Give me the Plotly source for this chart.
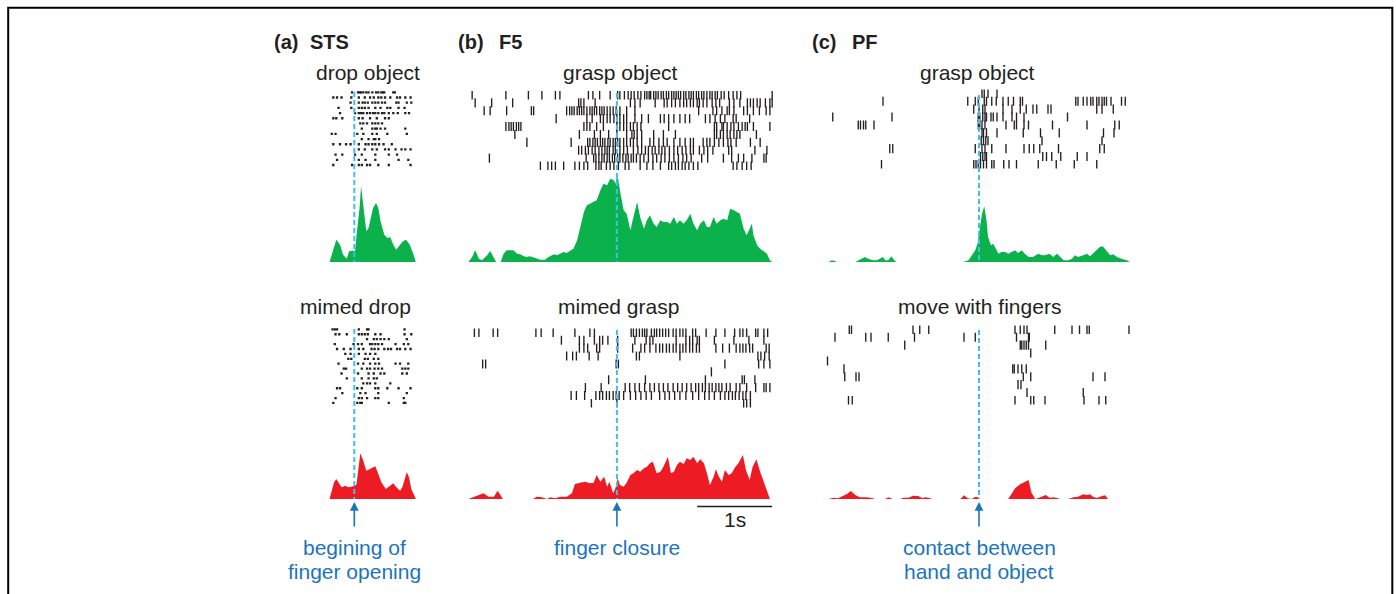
import plotly.graph_objects as go

W, H = 1396, 594

# ---------------- DATA (spike times in s, relative to the behavioural event) ----------------
# (a) STS - drop object : raster trials
sts_drop_trials = [
    [-0.03, 0.05, 0.07, 0.09, 0.12, 0.16, 0.19, 0.24, 0.29, 0.32, 0.36, 0.38, 0.40, 0.52, 0.54],
    [-0.28, -0.23, -0.17, -0.04, 0.06, 0.14, 0.21, 0.26, 0.32, 0.36, 0.41, 0.48, 0.57, 0.61, 0.68, 0.75],
    [-0.05, 0.06, 0.11, 0.14, 0.18, 0.24, 0.28, 0.32, 0.37, 0.41, 0.56, 0.59, 0.70, 0.76],
    [-0.21, -0.04, 0.06, 0.10, 0.14, 0.19, 0.28, 0.35, 0.44, 0.48, 0.59, 0.67],
    [-0.19, 0.01, 0.06, 0.09, 0.12, 0.17, 0.21, 0.25, 0.28, 0.32, 0.37, 0.40, 0.46, 0.52, 0.58, 0.68, 0.73],
    [-0.28, -0.24, -0.16, 0.06, 0.11, 0.21, 0.30, 0.41, 0.46],
    [0.08, 0.12, 0.17, 0.24, 0.28, 0.32, 0.37],
    [0.10, 0.24, 0.28, 0.30, 0.35, 0.41, 0.68],
    [-0.30, -0.25, 0.04, 0.12, 0.24, 0.30, 0.44, 0.70],
    [0.10, 0.19, 0.26, 0.28, 0.33],
    [-0.28, -0.19, -0.11, -0.05, 0.06, 0.15, 0.19, 0.24, 0.28, 0.33, 0.39, 0.50],
    [0.06, 0.14, 0.24, 0.30, 0.41, 0.46, 0.55, 0.63, 0.68, 0.75],
    [-0.25, -0.16, 0.01, 0.10, 0.28, 0.46, 0.57],
    [-0.23, 0.06, 0.15, 0.28, 0.59, 0.72],
    [-0.28, -0.03, 0.06, 0.10, 0.17, 0.21, 0.32, 0.46, 0.75],
]
sts_drop_t = [-0.33, -0.29, -0.24, -0.19, -0.15, -0.10, -0.07, -0.02, 0.01, 0.03, 0.07, 0.09, 0.12, 0.16,
              0.19, 0.22, 0.25, 0.29, 0.32, 0.35, 0.40, 0.44, 0.48, 0.52, 0.56, 0.61, 0.65, 0.69, 0.74,
              0.79, 0.82]
sts_drop_rate = [0, 10.7, 22.3, 17.3, 7.3, 3.3, 10.7, 11.3, 10.7, 27.3, 54, 75.7, 54, 30.7, 34, 44, 54,
                 59, 54, 40.7, 27.3, 24, 24.7, 17.3, 12.3, 17.3, 20.7, 22.3, 17.3, 7.3, 0]

# (a) STS - mimed drop
sts_mimed_trials = [
    [-0.29, -0.26, -0.23, 0.06, 0.17, 0.19, 0.67],
    [-0.25, -0.20, -0.10, 0.06, 0.10, 0.14, 0.18, 0.28, 0.35, 0.67, 0.76],
    [0.17, 0.26, 0.30, 0.35, 0.40, 0.46, 0.70],
    [-0.26, -0.01, 0.05, 0.10, 0.21, 0.24, 0.28, 0.32, 0.37, 0.55, 0.66, 0.72],
    [-0.23, -0.14, -0.05, 0.06, 0.12, 0.23, 0.27, 0.32, 0.40, 0.45, 0.49, 0.57, 0.61, 0.68, 0.75],
    [-0.12, -0.05, 0.06, 0.15, 0.21, 0.28],
    [-0.08, -0.04, 0.14, 0.18, 0.26, 0.32],
    [-0.21, 0.05, 0.12, 0.21, 0.28, 0.33, 0.55, 0.61, 0.72],
    [-0.14, -0.11, 0.10, 0.17, 0.21, 0.27, 0.32, 0.37, 0.64, 0.68, 0.72],
    [-0.17, 0.05, 0.19, 0.26, 0.35, 0.40, 0.64, 0.70],
    [-0.10, 0.10, 0.19, 0.26, 0.30],
    [0.12, 0.17, 0.21, 0.28, 0.48],
    [-0.23, -0.19, 0.04, 0.10, 0.28, 0.32, 0.44, 0.59, 0.75],
    [-0.16, 0.08, 0.15, 0.32, 0.70],
    [-0.25, 0.06, 0.10, 0.17, 0.28, 0.32, 0.66],
    [-0.28, 0.04, 0.08, 0.10, 0.46, 0.66, 0.68],
]
sts_mimed_t = [-0.33, -0.30, -0.27, -0.24, -0.21, -0.17, -0.12, -0.08, -0.04, 0.01, 0.03, 0.05, 0.08, 0.12,
               0.16, 0.21, 0.28, 0.32, 0.36, 0.42, 0.48, 0.52, 0.56, 0.61, 0.64, 0.68, 0.70, 0.73, 0.76,
               0.81, 0.82]
sts_mimed_rate = [0, 8.3, 16.7, 20, 16.7, 11.7, 13.3, 11.7, 12.3, 13.3, 15, 28.3, 45.7, 38.3, 28.3, 30,
                  32.7, 25, 16.7, 10, 13.3, 15.7, 11.7, 8.3, 11.7, 21.7, 26.7, 21.7, 10, 1.7, 0]

# (b) F5 - grasp object
f5_grasp_trials = [
    [-1.93, -1.48, -1.18, -1.00, -0.82, -0.76, -0.38, -0.32, -0.23, -0.09, 0.01, 0.04, 0.10, 0.15, 0.19,
     0.23, 0.28, 0.32, 0.37, 0.40, 0.43, 0.45, 0.49, 0.52, 0.55, 0.59, 0.62, 0.66, 0.69, 0.73, 0.76, 0.79,
     0.82, 0.85, 0.89, 0.92, 0.96, 0.99, 1.02, 1.06, 1.09, 1.13, 1.16, 1.20, 1.24, 1.27, 1.31, 1.34, 1.39,
     1.43, 1.49, 1.55, 1.60, 1.65, 2.07],
    [-1.89, -1.67, -1.39, -0.51, -0.48, -0.44, -0.29, 0.18, 0.24, 0.31, 0.51, 0.63, 0.67, 0.73, 0.78, 0.84,
     0.89, 0.93, 0.98, 1.02, 1.07, 1.10, 1.15, 1.20, 1.27, 1.32, 1.37, 1.50, 1.56, 1.64, 1.74, 1.78, 1.82,
     1.87, 1.91, 1.98, 2.04, 2.07],
    [-1.77, -1.69, -1.47, -1.14, -1.11, -0.67, -0.63, -0.60, -0.57, -0.53, -0.50, -0.47, -0.44, -0.40,
     -0.36, -0.33, -0.30, -0.27, -0.23, -0.20, -0.17, -0.13, -0.09, -0.05, -0.01, 0.04, 0.13, 0.24, 1.09,
     1.28, 1.33, 1.40, 1.47, 1.50, 1.56, 1.69, 1.74, 1.82, 1.90, 1.99, 2.04],
    [-0.81, -0.40, -0.33, -0.22, -0.18, -0.13, -0.09, -0.04, 0.00, 0.04, 0.09, 0.13, 0.24, 0.33, 0.42,
     0.58, 0.63, 0.69, 0.76, 0.84, 0.91, 0.97, 1.18, 1.24, 1.31, 1.38, 1.44, 1.55, 1.59, 1.77],
    [-1.48, -1.44, -1.41, -1.38, -1.34, -1.31, -1.28, -0.44, -0.40, -0.36, -0.27, -0.18, 0.00, 0.04, 0.09,
     0.13, 0.18, 0.22, 0.27, 0.32, 0.69, 1.30, 1.33, 1.40, 1.42, 1.47, 1.52, 1.56, 1.62, 1.67, 1.71, 1.74,
     1.82, 2.04],
    [-1.36, -0.50, -0.30, -0.22, -0.11, 0.00, 0.13, 0.20, 0.23, 0.27, 0.33, 0.49, 0.62, 0.78, 1.30, 1.33,
     1.38, 1.42, 1.47, 1.51, 1.56, 1.60, 1.64, 1.86],
    [-1.20, -0.61, -0.39, -0.36, -0.32, -0.29, -0.26, -0.22, -0.19, -0.16, -0.12, -0.09, -0.05, -0.02,
     0.01, 0.04, 0.09, 0.13, 0.18, 0.22, 0.27, 0.33, 0.44, 0.49, 0.56, 0.62, 0.67, 0.76, 0.84, 0.91, 0.98,
     1.02, 1.15, 1.20, 1.24, 1.30, 1.36, 1.42, 1.48, 1.52, 1.59, 1.78, 1.91],
    [-0.51, -0.47, -0.42, -0.38, -0.33, -0.29, -0.24, -0.20, -0.16, -0.13, -0.10, -0.05, -0.02, 0.04,
     0.09, 0.14, 0.22, 0.28, 0.33, 0.38, 0.42, 0.47, 0.51, 0.56, 0.60, 0.64, 0.70, 0.76, 0.81, 0.87, 0.92,
     0.98, 1.02, 1.10, 1.16, 1.21, 1.28, 1.49, 1.53, 1.84, 2.00],
    [-1.70, -0.41, -0.31, -0.28, -0.24, -0.20, -0.17, -0.13, -0.10, -0.06, -0.03, 0.01, 0.04, 0.08, 0.12,
     0.15, 0.19, 0.22, 0.26, 0.31, 0.36, 0.42, 0.48, 0.53, 0.59, 0.64, 0.70, 0.76, 0.82, 0.88, 0.93, 0.99,
     1.13, 1.21, 1.42, 1.53, 1.62, 1.69, 1.80, 1.96, 1.99],
    [-1.02, -0.92, -0.87, -0.82, -0.71, -0.56, -0.50, -0.44, -0.39, -0.28, -0.24, -0.21, -0.14, -0.09,
     -0.04, 0.02, 0.11, 0.16, 0.31, 0.40, 0.48, 0.58, 0.69, 0.73, 0.78, 0.82, 0.87, 0.91, 0.96, 1.02, 1.08,
     1.55, 1.60, 1.67, 1.73, 1.79],
]
f5_grasp_t = [-1.98, -1.93, -1.89, -1.84, -1.80, -1.73, -1.69, -1.64, -1.61, -1.55, -1.51, -1.47, -1.42,
              -1.38, -1.33, -1.29, -1.24, -1.20, -1.16, -1.11, -1.07, -1.02, -0.96, -0.91, -0.84, -0.80,
              -0.76, -0.71, -0.67, -0.62, -0.58, -0.53, -0.49, -0.44, -0.40, -0.36, -0.31, -0.27, -0.22,
              -0.18, -0.13, -0.09, -0.04, -0.02, 0.00, 0.02, 0.04, 0.09, 0.13, 0.18, 0.22, 0.27, 0.31,
              0.36, 0.40, 0.44, 0.49, 0.53, 0.58, 0.62, 0.67, 0.71, 0.76, 0.80, 0.84, 0.89, 0.93, 0.98,
              1.02, 1.07, 1.11, 1.16, 1.20, 1.24, 1.29, 1.33, 1.38, 1.42, 1.47, 1.51, 1.56, 1.60, 1.64,
              1.69, 1.73, 1.78, 1.80, 1.82, 1.87, 1.91, 1.96, 2.00, 2.04, 2.07]
f5_grasp_rate = [0, 5, 11.7, 3.3, 1.7, 6.7, 11, 5, 0, 0, 8.3, 11.7, 11.7, 11.7, 8.3, 7.7, 5.7, 5, 5.7,
                 4.3, 3.3, 2.3, 2.3, 5, 7.7, 6.7, 8.3, 10, 9, 11, 13.3, 21.7, 35, 50, 56.7, 58.3, 60,
                 61.7, 71.7, 78.3, 76.7, 83.3, 81.7, 78.3, 85, 81.7, 71.7, 51.7, 48.3, 31.7, 45, 60, 45,
                 33.3, 41.7, 46.7, 38.3, 35, 41.7, 40, 40, 38.3, 45, 38.3, 41.7, 38.3, 41.7, 48.3, 38.3,
                 31.7, 38.3, 41.7, 35, 35, 45, 38.3, 41.7, 43.3, 41.7, 53.3, 51.7, 50, 48.3, 33.3, 26.7,
                 35, 38.3, 26.7, 16.7, 13.3, 10, 8.3, 1.7, 0]

# (b) F5 - mimed grasp
f5_mimed_trials = [
    [-1.90, -1.84, -1.65, -1.59, -1.08, -1.01, -0.85, -0.56, -0.36, -0.30, 0.19, 0.22, 0.26, 0.30, 0.34,
     0.37, 0.40, 0.46, 0.50, 0.53, 0.57, 0.61, 0.65, 0.69, 0.75, 0.79, 0.84, 0.88, 0.92, 1.01, 1.05, 1.19,
     1.32, 1.44, 1.57, 1.64, 1.68, 1.73, 1.85, 1.88, 1.96, 2.01],
    [-0.74, -0.50, -0.44, -0.30, -0.23, -0.19, -0.12, 0.01, 0.24, 0.39, 0.44, 0.48, 0.79, 0.92, 0.97,
     1.01, 1.07, 1.10, 1.30, 1.56, 1.76, 1.96],
    [-0.50, -0.44, -0.39, -0.27, -0.23, 0.01, 0.21, 0.32, 0.37, 0.44, 0.52, 0.57, 0.61, 0.66, 0.70, 0.75,
     0.79, 0.84, 0.88, 0.92, 0.97, 1.01, 1.06, 1.10, 1.32, 1.41, 1.50, 1.59, 1.64, 1.68, 1.72, 1.77, 1.81,
     1.99, 2.03],
    [-0.67, -0.59, -0.54, -0.37, -0.25, 0.26, 0.30, 0.84, 1.88, 1.92, 1.97, 2.03],
    [-1.79, -1.75, -0.01, 0.02, 1.44, 1.89, 1.96, 2.04],
    [1.26],
    [-0.11, 0.38, 1.18, 1.67, 1.70, 1.84],
    [-0.42, -0.21, 0.11, 0.17, 0.24, 0.30, 0.37, 0.44, 0.50, 0.56, 0.62, 0.68, 0.75, 0.81, 0.87, 0.93,
     0.99, 1.05, 1.09, 1.14, 1.18, 1.23, 1.27, 1.32, 1.36, 1.40, 1.46, 1.51, 1.59, 1.64, 1.73, 1.85, 1.96,
     1.99, 2.04],
    [-0.61, -0.54, -0.43, -0.28, -0.23, -0.19, -0.14, -0.10, -0.05, -0.01, 0.03, 0.09, 0.18, 0.25, 0.32,
     0.39, 0.46, 0.57, 0.64, 0.70, 0.77, 0.84, 0.92, 1.01, 1.09, 1.17, 1.23, 1.30, 1.38, 1.44, 1.49, 1.54,
     1.58, 1.63, 1.68, 1.72, 1.78],
    [-0.34, 0.00, 1.69, 1.73, 1.78],
]
f5_mimed_t = [-1.98, -1.89, -1.78, -1.71, -1.64, -1.59, -1.53, -1.52, -1.12, -1.07, -1.00, -0.93, -0.89,
              -0.82, -0.76, -0.67, -0.60, -0.56, -0.49, -0.42, -0.36, -0.31, -0.27, -0.22, -0.17, -0.13,
              -0.10, -0.05, -0.02, 0.01, 0.04, 0.09, 0.13, 0.18, 0.22, 0.27, 0.31, 0.36, 0.40, 0.44, 0.48,
              0.53, 0.58, 0.62, 0.68, 0.72, 0.76, 0.80, 0.84, 0.89, 0.93, 0.98, 1.02, 1.07, 1.11, 1.16,
              1.20, 1.24, 1.29, 1.32, 1.36, 1.40, 1.44, 1.49, 1.53, 1.58, 1.62, 1.68, 1.72, 1.77, 1.81,
              1.86, 1.91, 1.98, 2.04]
f5_mimed_rate = [0, 2.3, 5.7, 2.3, 2.3, 8.3, 0.7, 0, 0, 2.3, 1.7, 0, 1.7, 0.7, 2.3, 2.3, 5.7, 15, 16.3,
                 17.3, 15.7, 16.3, 24, 17.3, 22.3, 12.3, 17.3, 5.7, 10.7, 20.7, 14, 12.3, 16.3, 24, 25.7,
                 29, 27.3, 30.7, 32.3, 35.7, 37.3, 25.7, 27.3, 32.3, 42.3, 25.7, 27.3, 34, 37.3, 35, 40.7,
                 39, 42.3, 35.7, 39.7, 35.7, 25.7, 14, 22.3, 29.7, 22.3, 17.3, 29, 24, 25.7, 32.3, 35.7,
                 44, 29, 19, 32.3, 39.7, 27.3, 12.3, 0]

# (c) PF - grasp object
pf_grasp_trials = [
    [0.04, 0.07, 0.12, 0.24],
    [-1.28, -0.15, -0.05, -0.01, 0.07, 0.10, 0.17, 0.23, 0.32, 0.39, 0.46, 0.55, 0.58, 1.29, 1.32, 1.39,
     1.44, 1.49, 1.52, 1.57, 1.60, 1.64, 1.67, 1.70, 1.76, 1.90, 1.95],
    [-0.07, 0.00, 0.05, 0.08, 0.32, 0.44, 0.55, 0.63, 0.72, 0.77, 0.92, 0.96, 1.57, 1.64, 1.79],
    [-1.95, -1.16, -0.01, 0.01, 0.05, 0.08, 0.10, 0.16, 0.19, 0.24, 0.32, 0.44, 0.50, 0.60, 1.18],
    [-1.61, -1.58, -1.54, -1.51, -1.40, -0.01, 0.01, 0.04, 0.08, 0.36, 0.47, 0.50, 0.60, 0.66, 0.98,
     1.44, 1.81, 1.87],
    [0.04, 0.06, 0.10, 0.24, 0.59, 0.82, 1.07, 1.66, 1.80],
    [0.03, 0.06, 0.09, 0.12, 0.84, 1.64],
    [-1.19, -1.15, -0.05, 0.04, 0.08, 0.17, 0.36, 0.60, 0.67, 0.73, 0.81, 1.06, 1.61, 1.67],
    [0.02, 0.05, 0.08, 0.10, 0.85, 0.90, 0.97, 1.09, 1.31, 1.44],
    [-1.30, -0.07, -0.04, -0.01, 0.02, 0.06, 0.10, 0.17, 0.20, 0.33, 0.40, 0.50, 0.79, 1.03, 1.27, 1.57],
]
pf_grasp_t = [-2.01, -1.96, -1.92, -1.90, -1.65, -1.61, -1.56, -1.52, -1.48, -1.41, -1.36, -1.32, -1.28,
              -1.25, -1.21, -1.17, -1.13, -1.10, -0.21, -0.14, -0.10, -0.05, -0.02, 0.00, 0.04, 0.07,
              0.10, 0.12, 0.16, 0.19, 0.23, 0.26, 0.30, 0.35, 0.39, 0.44, 0.48, 0.52, 0.57, 0.61, 0.66,
              0.72, 0.79, 0.84, 0.88, 0.94, 0.99, 1.04, 1.09, 1.13, 1.19, 1.24, 1.28, 1.32, 1.39, 1.44,
              1.48, 1.52, 1.57, 1.61, 1.65, 1.69, 1.75, 1.79, 1.84, 1.90, 1.97, 2.01]
pf_grasp_rate = [0, 1.7, 1, 0, 0, 1.7, 4, 5, 3.3, 1.7, 1.7, 3.3, 5, 1.7, 1.7, 5.7, 1.7, 0, 0, 1.7, 6.7,
                 11.7, 18.3, 30, 48.3, 55.7, 41.7, 25, 16.7, 18.3, 11.7, 8.3, 10, 10, 8.3, 10, 11.7, 9,
                 11.7, 8.3, 5, 5, 8.3, 6.7, 6.7, 8.3, 5, 8.3, 5, 1.7, 1.7, 3.3, 6.7, 5, 6.7, 8.3, 5.7,
                 8.3, 11.7, 15, 15.7, 11.7, 6.7, 7.7, 5, 3.3, 1.7, 0]

# (c) PF - move with fingers
pf_move_trials = [
    [-1.73, -1.70, -0.88, -0.79, -0.67, 0.48, 0.55, 0.60, 0.64, 1.01, 1.24, 1.34, 1.44, 1.47, 2.00],
    [-1.92, -1.51, -1.44, -1.21, -0.86, -0.20, -0.05, 0.50, 0.66, 0.67],
    [-0.99, 0.55, 0.57, 0.60, 0.63, 0.66, 0.89],
    [0.69],
    [-2.02],
    [-1.80, 0.45, 0.47, 0.52, 0.57, 0.63],
    [-1.79, -1.64, -1.60, 0.59, 0.69, 1.52, 1.68],
    [0.52, 0.56],
    [0.64, 1.39],
    [-1.74, -1.69, 0.48, 0.69, 0.73, 0.88, 1.40, 1.60, 1.69],
]
pf_move_t = [-2.01, -1.94, -1.88, -1.83, -1.76, -1.71, -1.65, -1.59, -1.50, -1.41, -1.39, -1.25, -1.21,
             -1.15, -1.05, -1.01, -0.94, -0.88, -0.81, -0.76, -0.71, -0.66, -0.62, -0.25, -0.20, -0.15,
             -0.10, -0.05, -0.01, 0.01, 0.39, 0.44, 0.48, 0.55, 0.60, 0.66, 0.70, 0.75, 0.79, 0.84, 0.89,
             0.94, 0.99, 1.04, 1.08, 1.19, 1.26, 1.32, 1.39, 1.44, 1.48, 1.52, 1.57, 1.64, 1.68, 1.72]
pf_move_rate = [0, 1.3, 0.7, 2.3, 5, 8, 4, 1.7, 1.7, 0.7, 0, 0, 1.7, 0, 0, 1.3, 1.3, 3.3, 3, 1, 1.7, 1,
                0, 0, 3.7, 0.7, 0, 2, 1.7, 0, 0, 5.7, 10.7, 14.7, 16.3, 19, 6.3, 0, 1, 2.3, 4, 1.3, 1.7,
                1, 0, 0, 1.7, 2.3, 4.7, 4, 4.7, 2.3, 1, 3, 3.7, 0]

# Text
area_labels = [("(a)", "STS"), ("(b)", "F5"), ("(c)", "PF")]
top_titles = ["drop object", "grasp object", "grasp object"]
bottom_titles = ["mimed drop", "mimed grasp", "move with fingers"]
event_labels = [["begining of", "finger opening"], ["finger closure"], ["contact between", "hand and object"]]
scale_bar_s = [1.07, 2.07]
scale_label = "1s"

# ---------------- STYLE / LAYOUT ----------------
GREEN = "#0BB14B"
RED = "#ED1C24"
DASH = "#3DBFEF"
BLUE = "#1B75BC"
INK = "#231F20"
FONT = "Liberation Sans, Arial, sans-serif"


def fx(px):
    return px / W


def fy(py):
    return 1 - py / H


fig = go.Figure()

# column x-axes (same time scale: 75 px per second)
cols = [
    dict(px=(320, 430), zero=354.3),
    dict(px=(460, 780), zero=616.9),
    dict(px=(820, 1140), zero=979.0),
]
xnames = ["x", "x2", "x3"]
layout_axes = {}
for i, c in enumerate(cols):
    key = "xaxis" if i == 0 else f"xaxis{i+1}"
    layout_axes[key] = dict(
        domain=[fx(c["px"][0]), fx(c["px"][1])],
        range=[(c["px"][0] - c["zero"]) / 75.0, (c["px"][1] - c["zero"]) / 75.0],
        visible=False, showgrid=False, zeroline=False, fixedrange=True, anchor="y",
    )

# y : top histograms, y2 : bottom histograms (value range 0..100 over 100 px)
layout_axes["yaxis"] = dict(domain=[fy(262), fy(162)], range=[0, 100], visible=False, anchor="x")
layout_axes["yaxis2"] = dict(domain=[fy(499), fy(399)], range=[0, 100], visible=False, anchor="x")
raster_specs = [
    ("yaxis3", 89.7, 167.6, len(sts_drop_trials)),
    ("yaxis4", 326.9, 405.4, len(sts_mimed_trials)),
    ("yaxis5", 91.0, 170.0, len(f5_grasp_trials)),
    ("yaxis6", 328.4, 407.4, len(f5_mimed_trials)),
    ("yaxis7", 89.4, 168.4, len(pf_grasp_trials)),
    ("yaxis8", 325.4, 404.4, len(pf_move_trials)),
]
for name, top, bot, n in raster_specs:
    layout_axes[name] = dict(domain=[fy(bot), fy(top)], range=[n - 0.5, -0.5],
                             visible=False, anchor="x")

panels = [
    ("x", "y3", sts_drop_trials, "y", sts_drop_t, sts_drop_rate, GREEN, True),
    ("x", "y4", sts_mimed_trials, "y2", sts_mimed_t, sts_mimed_rate, RED, True),
    ("x2", "y5", f5_grasp_trials, "y", f5_grasp_t, f5_grasp_rate, GREEN, False),
    ("x2", "y6", f5_mimed_trials, "y2", f5_mimed_t, f5_mimed_rate, RED, False),
    ("x3", "y7", pf_grasp_trials, "y", pf_grasp_t, pf_grasp_rate, GREEN, False),
    ("x3", "y8", pf_move_trials, "y2", pf_move_t, pf_move_rate, RED, False),
]

for xa, ya, trials, yh, tt, rate, colr, dots in panels:
    xs, ys = [], []
    for k, tr in enumerate(trials):
        for s in tr:
            xs.append(s)
            ys.append(k)
    if dots:
        marker = dict(symbol="square", size=2.3, color=INK, line=dict(width=0))
    else:
        marker = dict(symbol="line-ns", size=6.5, color=INK, line=dict(width=1.35, color=INK))
    fig.add_trace(go.Scatter(x=xs, y=ys, xaxis=xa, yaxis=ya, mode="markers", marker=marker,
                             hoverinfo="skip", showlegend=False))
    fig.add_trace(go.Scatter(x=tt, y=rate, xaxis=xa, yaxis=yh, mode="lines",
                             line=dict(width=0, color=colr), fill="tozeroy", fillcolor=colr,
                             hoverinfo="skip", showlegend=False))

shapes = []
annotations = []

# frame (open at the bottom)
shapes.append(dict(type="path", xref="paper", yref="paper",
                   path=f"M {fx(8.2)} -0.05 L {fx(8.2)} {fy(7.7)} L {fx(1392.3)} {fy(7.7)} L {fx(1392.3)} -0.05",
                   line=dict(color="black", width=2)))

# event dashed lines, arrows, labels
dash_ranges = [((92, 262), (329, 499)), ((93, 262), (330, 499)), ((95, 262), (330, 499))]
for i, xa in enumerate(xnames):
    for (y0, y1) in dash_ranges[i]:
        shapes.append(dict(type="line", xref=xa, yref="paper", x0=0, x1=0, y0=fy(y0), y1=fy(y1),
                           line=dict(color=DASH, width=2, dash="5px,3px")))
    annotations.append(dict(x=0, y=fy(502), xref=xa, yref="paper", text="", showarrow=True,
                            ax=0, ay=26, axref="pixel", ayref="pixel", arrowhead=2, arrowsize=1.1,
                            arrowwidth=1.6, arrowcolor=BLUE, standoff=0))
    for j, line in enumerate(event_labels[i]):
        annotations.append(dict(x=0, y=fy(547 + 24 * j), xref=xa, yref="paper", text=line,
                                showarrow=False, xanchor="center", yanchor="middle",
                                font=dict(family=FONT, size=21, color=BLUE)))

# titles
title_x = [368, 620, 977]
btitle_x = [355, 618, 979]
for i in range(3):
    annotations.append(dict(x=fx(title_x[i]), y=fy(72), xref="paper", yref="paper", text=top_titles[i],
                            showarrow=False, xanchor="center", yanchor="middle",
                            font=dict(family=FONT, size=21, color=INK)))
    annotations.append(dict(x=fx(btitle_x[i]), y=fy(306), xref="paper", yref="paper",
                            text=bottom_titles[i], showarrow=False, xanchor="center", yanchor="middle",
                            font=dict(family=FONT, size=21, color=INK)))

lab_x = [(272, 308), (456, 497), (810, 850)]
for i, (a, b) in enumerate(area_labels):
    for txt, px in ((a, lab_x[i][0]), (b, lab_x[i][1])):
        annotations.append(dict(x=fx(px), y=fy(42), xref="paper", yref="paper", text=f"<b>{txt}</b>",
                                showarrow=False, xanchor="left", yanchor="middle",
                                font=dict(family=FONT, size=20, color=INK)))

# scale bar
shapes.append(dict(type="line", xref="x2", yref="paper", x0=scale_bar_s[0], x1=scale_bar_s[1],
                   y0=fy(506.5), y1=fy(506.5), line=dict(color=INK, width=1.6)))
annotations.append(dict(x=(scale_bar_s[0] + scale_bar_s[1]) / 2, y=fy(519), xref="x2", yref="paper",
                        text=scale_label, showarrow=False, xanchor="center", yanchor="middle",
                        font=dict(family=FONT, size=21, color=INK)))

fig.update_layout(
    width=W, height=H, margin=dict(l=0, r=0, t=0, b=0),
    paper_bgcolor="white", plot_bgcolor="white",
    showlegend=False, shapes=shapes, annotations=annotations,
    **layout_axes,
)

fig.write_html("out.html", config={"displayModeBar": False})
